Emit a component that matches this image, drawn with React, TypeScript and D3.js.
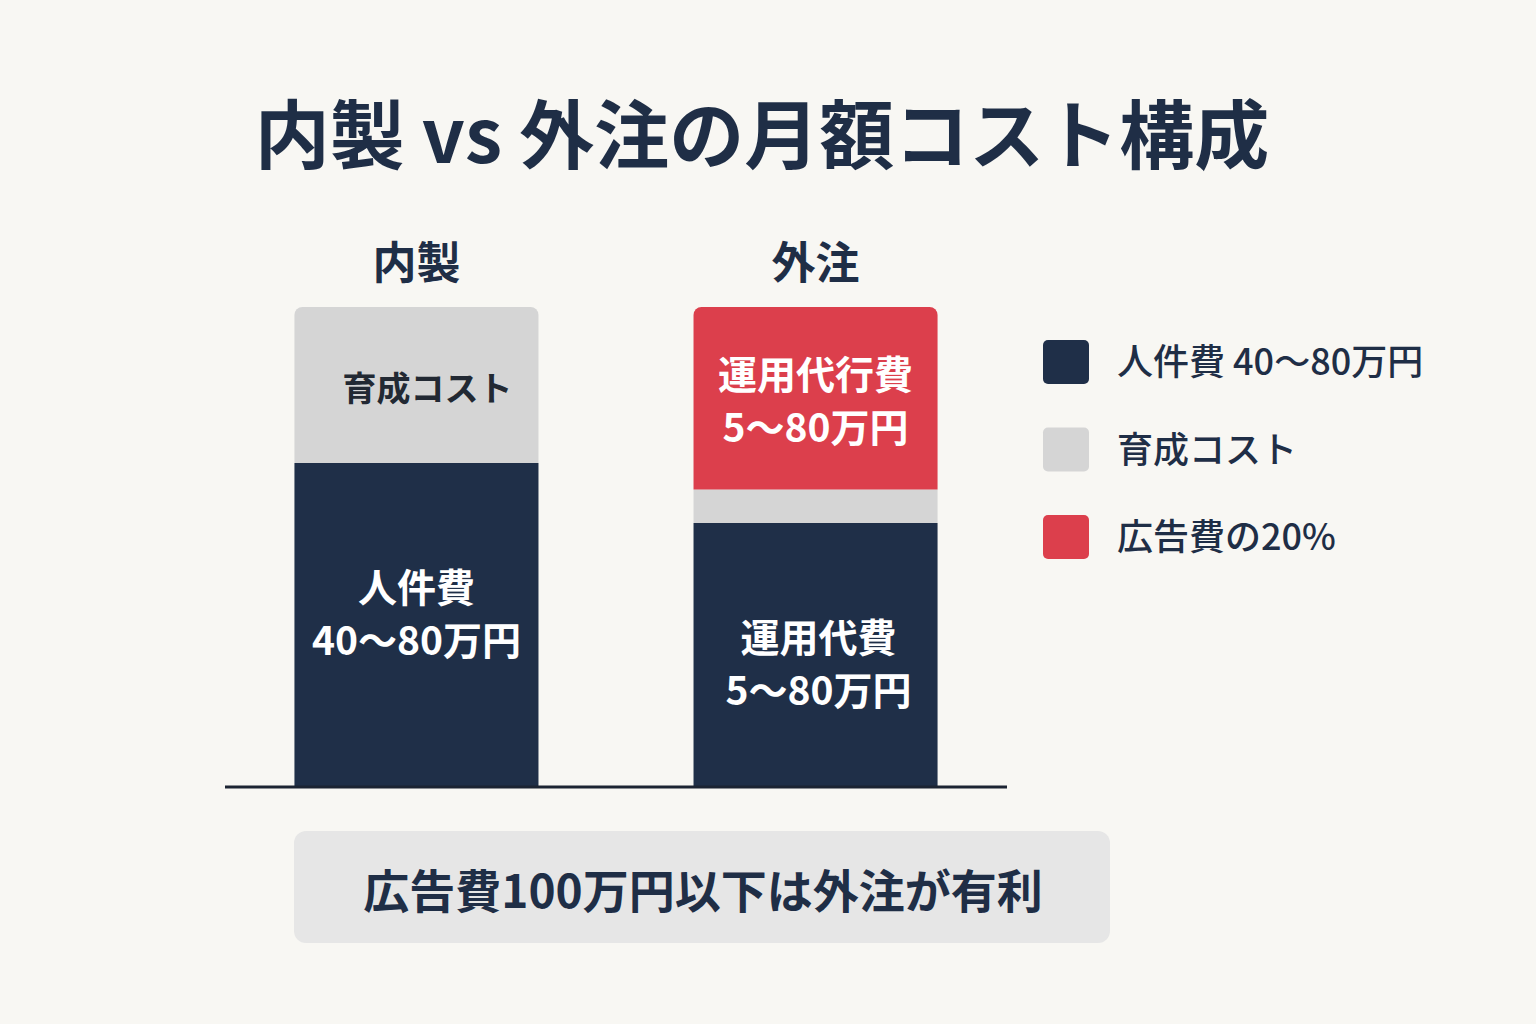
import React from 'react';
import * as d3 from 'd3';

// categories and stacked segment values (relative monthly cost share)
const categories = ['内製', '外注'];
const seriesKeys = ['labor', 'training', 'agency'];
const laborValues = [67.5, 55];
const trainingValues = [32.5, 7];
const agencyValues = [0, 38];

const segmentLabels: Record<string, string[][]> = {
  labor: [['人件費', '40～80万円'], ['運用代費', '5～80万円']],
  training: [['育成コスト'], []],
  agency: [[], ['運用代行費', '5～80万円']],
};

const legendLabels = ['人件費 40～80万円', '育成コスト', '広告費の20%'];
const title = '内製 vs 外注の月額コスト構成';
const note = '広告費100万円以下は外注が有利';

const colors: Record<string, string> = {
  labor: '#1f2f48',
  training: '#d5d5d5',
  agency: '#dc3f4c',
};
const textColors: Record<string, string> = {
  labor: '#ffffff',
  training: '#222933',
  agency: '#ffffff',
};

const FONT = '"Noto Sans CJK JP", "Noto Sans", sans-serif';
const INK = '#1f2e46';

function topRoundedRect(x: number, y: number, w: number, h: number, r: number) {
  const p = d3.path();
  p.moveTo(x, y + h);
  p.lineTo(x, y + r);
  p.arcTo(x, y, x + r, y, r);
  p.lineTo(x + w - r, y);
  p.arcTo(x + w, y, x + w, y + r, r);
  p.lineTo(x + w, y + h);
  p.closePath();
  return p.toString();
}

export default function App() {
  const width = 1536;
  const height = 1024;

  const rows = categories.map((c, i) => ({
    category: c,
    labor: laborValues[i],
    training: trainingValues[i],
    agency: agencyValues[i],
  }));
  const stacked = d3.stack<any>().keys(seriesKeys)(rows);

  const x = d3.scaleBand()
    .domain(categories)
    .range([225, 1007])
    .paddingInner(0.3885)
    .paddingOuter(0.174);
  const y = d3.scaleLinear().domain([0, 100]).range([787, 307]);

  // topmost non-empty segment per category gets rounded corners
  const topKey = categories.map((_, i) => {
    let k = '';
    stacked.forEach((s) => { if (s[i][1] - s[i][0] > 0) k = s.key; });
    return k;
  });

  const labelShift: Record<string, number[]> = { labor: [-14, 6], training: [1, 0], agency: [0, 0] };
  const labelDx: Record<string, number[]> = { labor: [0, 3], training: [11, 0], agency: [0, 0] };

  const legendY = d3.scalePoint().domain(legendLabels).range([362, 537]);

  return (
    <svg width={width} height={height} style={{ position: 'absolute', left: 0, top: 0, display: 'block' }}>
      <rect x={0} y={0} width={width} height={height} fill="#f8f7f3" />
      <text x={762} y={130} textAnchor="middle" dominantBaseline="central" fontFamily={FONT}
        fontWeight={700} fontSize={75} fill={INK}>{title}</text>

      {categories.map((c) => (
        <text key={c} x={(x(c) ?? 0) + x.bandwidth() / 2} y={260} textAnchor="middle" dominantBaseline="central"
          fontFamily={FONT} fontWeight={700} fontSize={44} fill={INK}>{c}</text>
      ))}

      {stacked.map((s) => (
        <g key={s.key}>
          {s.map((d, i) => {
            const h = y(d[0]) - y(d[1]);
            if (h <= 0) return null;
            const x0 = x(categories[i]) ?? 0;
            const bw = x.bandwidth();
            return topKey[i] === s.key
              ? <path key={i} d={topRoundedRect(x0, y(d[1]), bw, h, 8)} fill={colors[s.key]} />
              : <rect key={i} x={x0} y={y(d[1])} width={bw} height={h} fill={colors[s.key]} />;
          })}
        </g>
      ))}

      {stacked.map((s) => (
        <g key={s.key + '-lbl'}>
          {s.map((d, i) => {
            const lines = segmentLabels[s.key][i];
            if (!lines || lines.length === 0) return null;
            const cx = (x(categories[i]) ?? 0) + x.bandwidth() / 2 + labelDx[s.key][i];
            const cy = (y(d[0]) + y(d[1])) / 2 + labelShift[s.key][i];
            const lh = 53;
            const fs = s.key === 'training' ? 34 : 39;
            return lines.map((t, j) => (
              <text key={i + '-' + j} x={cx} y={cy + (j - (lines.length - 1) / 2) * lh}
                textAnchor="middle" dominantBaseline="central" fontFamily={FONT} fontWeight={700}
                fontSize={fs} fill={textColors[s.key]}>{t}</text>
            ));
          })}
        </g>
      ))}

      <line x1={225} x2={1007} y1={787} y2={787} stroke="#1c2433" strokeWidth={3} />

      {legendLabels.map((l, i) => (
        <g key={l} transform={`translate(1043, ${legendY(l)})`}>
          <rect x={0} y={-22} width={46} height={44} rx={5} fill={colors[seriesKeys[i]]} />
          <text x={74} y={-3} dominantBaseline="central" fontFamily={FONT} fontWeight={500}
            fontSize={36} fill={INK}>{l}</text>
        </g>
      ))}

      <rect x={294} y={831} width={816} height={112} rx={12} fill="#e6e6e6" />
      <text x={703} y={888} textAnchor="middle" dominantBaseline="central" fontFamily={FONT}
        fontWeight={700} fontSize={46} fill={INK}>{note}</text>
    </svg>
  );
}
